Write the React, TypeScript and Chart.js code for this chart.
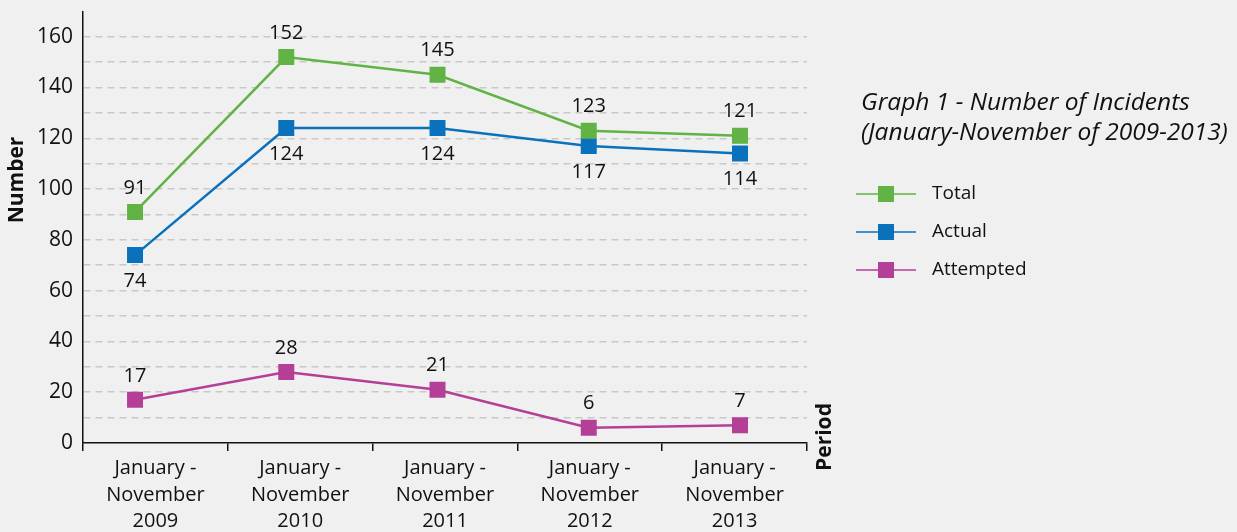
import React, { useEffect, useRef } from 'react';
import { Chart, registerables } from 'chart.js';
Chart.register(...registerables);

const categories = [
  ['January -', 'November', '2009'],
  ['January -', 'November', '2010'],
  ['January -', 'November', '2011'],
  ['January -', 'November', '2012'],
  ['January -', 'November', '2013'],
];
const totalValues = [91, 152, 145, 123, 121];
const actualValues = [74, 124, 124, 117, 114];
const attemptedValues = [17, 28, 21, 6, 7];
const seriesNames = ['Total', 'Actual', 'Attempted'];
const seriesColors = ['#62b346', '#0a72bd', '#b53f97'];
const labelSides = ['above', 'below', 'above'];
const titleLines = ['Graph 1 - Number of Incidents', '(January-November of 2009-2013)'];
const yAxisTitle = 'Number';
const xAxisTitle = 'Period';

const FONT = '"Open Sans", "Noto Sans", sans-serif';
const BG = '#f0f0f0';

const W = 1237;
const H = 532;
const LEFT = 83;
const RIGHT = 807;
const TOP = 7;
const BOTTOM = 443;

const overlayPlugin = {
  id: 'overlay',
  afterDatasetsDraw(chart: any) {
    const ctx = chart.ctx;
    ctx.save();
    ctx.fillStyle = '#111';
    ctx.font = `20px ${FONT}`;
    ctx.textAlign = 'center';
    ctx.textBaseline = 'middle';
    chart.data.datasets.forEach((ds: any, i: number) => {
      const meta = chart.getDatasetMeta(i);
      meta.data.forEach((pt: any, j: number) => {
        const dy = labelSides[i] === 'above' ? -24 : 26;
        ctx.fillText(String(ds.data[j].y), pt.x, pt.y + dy);
      });
    });
    ctx.restore();
  },
  afterDraw(chart: any) {
    const ctx = chart.ctx;
    ctx.save();
    ctx.fillStyle = '#111';
    ctx.font = `bold 21px ${FONT}`;
    ctx.textAlign = 'center';
    ctx.textBaseline = 'middle';
    ctx.save();
    ctx.translate(17, 180);
    ctx.rotate(-Math.PI / 2);
    ctx.fillText(yAxisTitle, 0, 0);
    ctx.restore();
    ctx.save();
    ctx.translate(825, 437);
    ctx.rotate(-Math.PI / 2);
    ctx.fillText(xAxisTitle, 0, 0);
    ctx.restore();
    ctx.font = `italic 24.5px ${FONT}`;
    ctx.textAlign = 'left';
    ctx.fillText(titleLines[0], 861, 103);
    ctx.fillText(titleLines[1], 861, 133);
    seriesNames.forEach((name, i) => {
      const y = 194 + i * 38;
      ctx.strokeStyle = seriesColors[i];
      ctx.lineWidth = 1.5;
      ctx.beginPath();
      ctx.moveTo(856, y);
      ctx.lineTo(916, y);
      ctx.stroke();
      ctx.fillStyle = seriesColors[i];
      ctx.fillRect(878, y - 8, 16, 16);
      ctx.fillStyle = '#111';
      ctx.font = `19px ${FONT}`;
      ctx.fillText(name, 932, y);
    });
    ctx.restore();
  },
};

export default function App() {
  const ref = useRef<HTMLCanvasElement>(null);
  useEffect(() => {
    document.body.style.margin = '0';
    document.body.style.background = BG;
    const values = [totalValues, actualValues, attemptedValues];
    const chart = new Chart(ref.current!, {
      type: 'line',
      data: {
        labels: categories,
        datasets: values.map((v, i) => ({
          label: seriesNames[i],
          data: v.map((y, k) => ({ x: k, y })),
          xAxisID: 'xp',
          borderColor: seriesColors[i],
          backgroundColor: seriesColors[i],
          borderWidth: 2.5,
          pointStyle: 'rect',
          pointRadius: 11.3,
          pointHoverRadius: 11.3,
          pointBorderWidth: 0,
          tension: 0,
        })),
      },
      options: {
        animation: false,
        responsive: false,
        events: [],
        layout: { padding: { left: 0, right: W - RIGHT, top: TOP, bottom: 0 } },
        plugins: { legend: { display: false }, tooltip: { enabled: false } },
        scales: {
          x: {
            type: 'category',
            offset: true,
            afterFit: (s: any) => { s.height = H - BOTTOM; s.paddingLeft = 0; s.paddingRight = 0; },
            border: { color: '#111', width: 1.5 },
            grid: {
              offset: true,
              drawOnChartArea: false,
              drawTicks: true,
              tickLength: 8,
              color: '#111',
              lineWidth: 1.5,
            },
            ticks: {
              color: '#111',
              font: { family: FONT, size: 20, lineHeight: 1.33 },
              padding: 4,
              maxRotation: 0,
              autoSkip: false,
            },
          },
          xp: {
            type: 'linear',
            display: false,
            min: -0.344,
            max: 4.443,
          },
          y: {
            min: 0,
            max: 170,
            afterFit: (s: any) => { s.width = LEFT; s.paddingTop = 0; s.paddingBottom = 0; },
            border: { color: '#111', width: 1.5, dash: [7, 5] },
            grid: {
              drawTicks: false,
              color: (c: any) => (c.tick && (c.tick.value === 0 || c.tick.value === 170) ? 'rgba(0,0,0,0)' : '#c8c8c8'),
              lineWidth: 1.5,
            },
            ticks: {
              stepSize: 10,
              autoSkip: false,
              color: '#111',
              font: { family: FONT, size: 21, lineHeight: 0.5 },
              padding: 10,
              callback: (v: any) => (v % 20 === 0 && v <= 160 ? String(v) : ''),
            },
          },
        },
      },
      plugins: [overlayPlugin],
    } as any);
    return () => chart.destroy();
  }, []);
  return (
    <div style={{ position: 'absolute', left: 0, top: 0, width: W, height: H, background: BG }}>
      <canvas ref={ref} width={W} height={H} style={{ width: W, height: H }} />
    </div>
  );
}
